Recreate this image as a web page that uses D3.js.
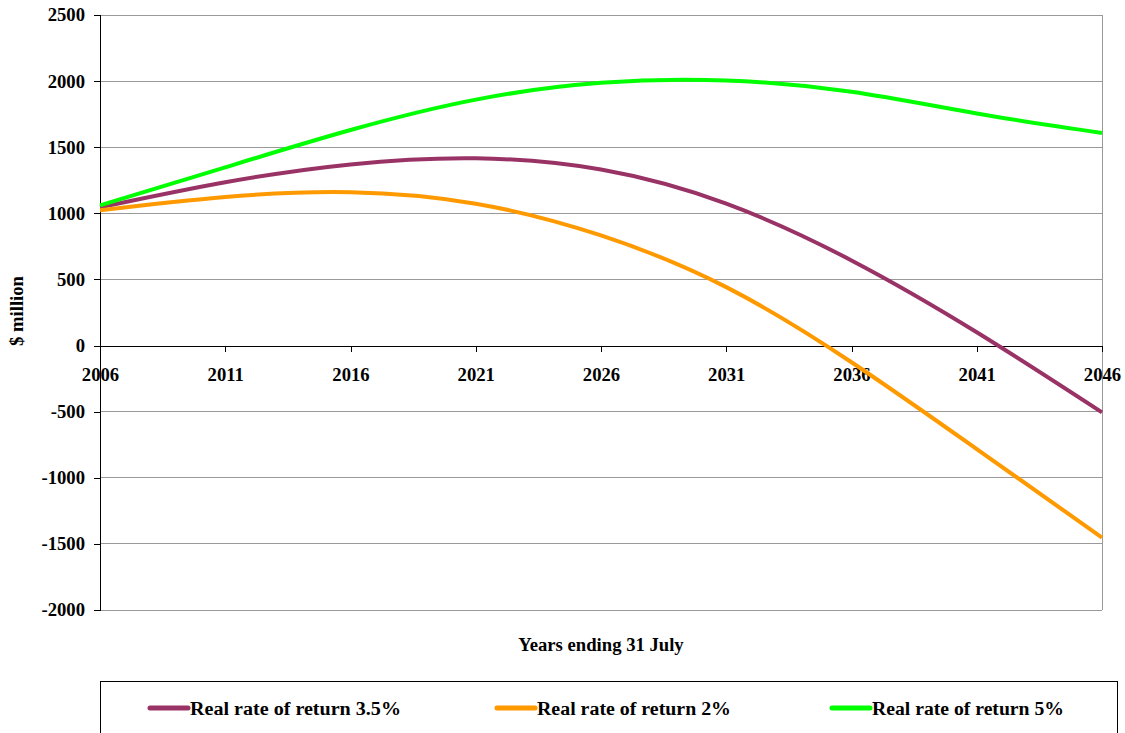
<!DOCTYPE html>
<html><head><meta charset="utf-8">
<script src="https://cdn.jsdelivr.net/npm/d3@7"></script>
<style>body{margin:0;background:#fff}svg{display:block}text{font-family:"Liberation Serif","Times New Roman",serif;font-weight:bold;fill:#000}</style>
</head><body>
<script>
const years = [2006,2011,2016,2021,2026,2031,2036,2041,2046];
const valuesPurple = [1045,1235,1370,1416,1331,1073,644,101,-505];
const valuesOrange = [1023,1124,1160,1073,833,442,-126,-783,-1452];
const valuesGreen = [1060,1348,1630,1860,1987,2005,1919,1755,1608];
const xTicks = [2006,2011,2016,2021,2026,2031,2036,2041,2046];
const yTicks = [2500,2000,1500,1000,500,0,-500,-1000,-1500,-2000];
const seriesNames = ["Real rate of return 3.5%","Real rate of return 2%","Real rate of return 5%"];
const seriesColors = ["#993366","#FF9900","#00FF00"];

const W=1125,H=733;
const svg=d3.select("body").append("svg").attr("width",W).attr("height",H);
const L=100,R=1102,T=15,B=610;
const x=d3.scaleLinear().domain([2006,2046]).range([L,R]);
const y=d3.scaleLinear().domain([-2000,2500]).range([B,T]);

// gridlines
svg.append("g").selectAll("line").data(yTicks.filter(d=>d!==0)).join("line")
  .attr("x1",L).attr("x2",R).attr("y1",d=>y(d)).attr("y2",d=>y(d))
  .attr("stroke","#999").attr("stroke-width",1).attr("shape-rendering","crispEdges");
// right border
svg.append("line").attr("x1",R).attr("x2",R).attr("y1",T).attr("y2",B)
  .attr("stroke","#999").attr("shape-rendering","crispEdges");

const fmt = d => String(d);
// y axis
const yAxis=d3.axisLeft(y).tickValues(yTicks).tickSize(6).tickPadding(9).tickFormat(fmt);
const gy=svg.append("g").attr("transform",`translate(${L},0)`).call(yAxis);
gy.attr("font-family",null);
gy.select(".domain").attr("stroke","#000").attr("shape-rendering","crispEdges");
gy.selectAll(".tick line").attr("stroke","#000").attr("shape-rendering","crispEdges");
gy.selectAll("text").attr("font-size","18.67px").attr("font-family","Liberation Serif").attr("font-weight","bold");

// x axis at y=0
const xAxis=d3.axisBottom(x).tickValues(xTicks).tickSize(6).tickPadding(16).tickFormat(fmt);
const gx=svg.append("g").attr("transform",`translate(0,${y(0)})`).call(xAxis);
gx.attr("font-family",null);
gx.select(".domain").attr("stroke","#000").attr("shape-rendering","crispEdges");
gx.selectAll(".tick line").attr("stroke","#000").attr("shape-rendering","crispEdges");
gx.selectAll("text").attr("font-size","18.67px").attr("font-family","Liberation Serif").attr("font-weight","bold");

// lines
const series=[
  {values:valuesPurple,color:seriesColors[0]},
  {values:valuesOrange,color:seriesColors[1]},
  {values:valuesGreen,color:seriesColors[2]}
];
const line=d3.line().x(d=>x(d[0])).y(d=>y(d[1])).curve(d3.curveNatural);
series.forEach(s=>{
  svg.append("path").datum(years.map((yr,i)=>[yr,s.values[i]]))
    .attr("d",line).attr("fill","none").attr("stroke",s.color).attr("stroke-width",4);
});

// axis titles
svg.append("text").attr("transform","translate(23,311) rotate(-90)").attr("text-anchor","middle")
  .attr("font-size","18.67px").text("$ million");
svg.append("text").attr("x",601).attr("y",651).attr("text-anchor","middle")
  .attr("font-size","18.67px").text("Years ending 31 July");

// legend
svg.append("rect").attr("x",100.5).attr("y",681.5).attr("width",1017).attr("height",70)
  .attr("fill","none").attr("stroke","#000").attr("stroke-width",1);
const legX=[150,497,832], legTextLen=[211,194,192];
seriesNames.forEach((n,i)=>{
  svg.append("line").attr("x1",legX[i]).attr("x2",legX[i]+38).attr("y1",708).attr("y2",708)
    .attr("stroke",seriesColors[i]).attr("stroke-width",5).attr("stroke-linecap","round");
  svg.append("text").attr("x",legX[i]+40).attr("y",715).attr("font-size","18.67px")
    .attr("textLength",legTextLen[i]).attr("lengthAdjust","spacingAndGlyphs").text(n);
});
</script>
</body></html>
